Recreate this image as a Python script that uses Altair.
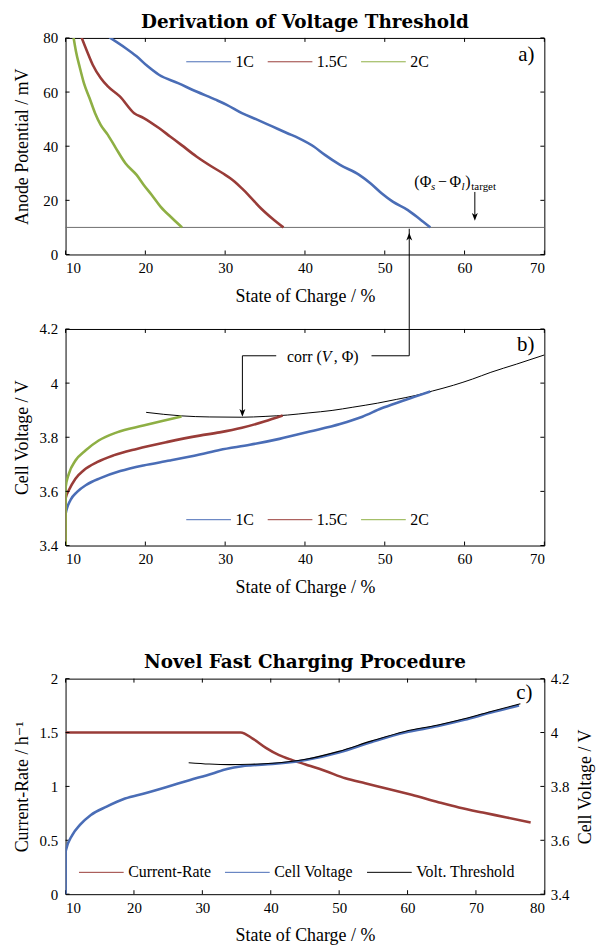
import altair as alt
import pandas as pd

FONT = "'Liberation Serif', 'Times New Roman', 'DejaVu Serif', serif"
TFONT = "'DejaVu Serif', 'Liberation Serif', serif"
BLUE, RED, GREEN = "#4a6db6", "#993c38", "#8eaf44"

# ---------------- tick values ----------------
soc_ticks_ab = [10, 20, 30, 40, 50, 60, 70]
soc_ticks_c = [10, 20, 30, 40, 50, 60, 70, 80]
mv_ticks = [0, 20, 40, 60, 80]
volt_ticks = [3.4, 3.6, 3.8, 4.0, 4.2]
rate_ticks = [0, 0.5, 1.0, 1.5, 2.0]

rates_ab = ["1C", "1.5C", "2C"]
series_c = ["Current-Rate", "Cell Voltage", "Volt. Threshold"]

# ---------------- panel a: anode potential (mV) ----------------
a_1c_soc = [15.5, 17.5, 18.9, 20.3, 21.7, 24.1, 26.4, 28.8, 30.2, 32.1, 34.0, 35.9,
            37.8, 39.2, 41.1, 42.5, 44.4, 46.8, 48.2, 49.6, 51.0, 52.9, 54.3, 55.7]
a_1c_mv = [80.2, 76.3, 73.2, 69.5, 66.4, 63.3, 60.2, 57.2, 55.3, 52.2, 49.8, 47.3,
           44.8, 43.0, 39.9, 36.8, 33.1, 29.4, 26.3, 22.6, 19.5, 16.4, 13.3, 10.0]
a_15c_soc = [12.0, 12.7, 13.4, 14.4, 15.3, 16.8, 18.6, 19.8, 21.7, 23.1, 24.5, 26.4,
             28.3, 29.7, 31.2, 32.1, 33.1, 34.5, 35.9, 37.3]
a_15c_mv = [80.2, 75.0, 70.1, 65.2, 62.1, 58.4, 52.2, 50.4, 46.7, 43.6, 40.5, 36.2,
            32.5, 30.0, 26.9, 24.4, 21.4, 17.0, 13.3, 10.0]
a_2c_soc = [11.0, 11.3, 11.8, 12.3, 13.0, 13.7, 14.4, 15.3, 16.3, 17.5, 18.9, 19.8,
            20.8, 21.9, 23.4, 24.6]
a_2c_mv = [80.2, 75.1, 68.9, 63.3, 57.8, 52.2, 47.9, 44.2, 39.3, 33.7, 29.4, 25.7,
           22.0, 17.7, 13.3, 10.0]
target_mv = [10]

# ---------------- panel b: cell voltage (V) ----------------
b_1c_soc = [10.0, 10.01, 10.62, 11.45, 12.7, 14.36, 16.85, 19.75, 23.07, 26.8, 29.3,
            33.1, 36.8, 40.6, 44.4, 47.2, 49.6, 52.0, 53.8, 55.7]
b_1c_v = [3.40, 3.517, 3.568, 3.598, 3.626, 3.649, 3.675, 3.696, 3.714, 3.736, 3.753,
          3.772, 3.794, 3.821, 3.849, 3.876, 3.907, 3.932, 3.950, 3.969]
b_15c_soc = [10.0, 10.01, 10.41, 11.24, 12.28, 13.94, 16.0, 18.92, 22.66, 26.8, 29.3,
             32.1, 34.9, 37.2]
b_15c_v = [3.40, 3.575, 3.604, 3.647, 3.678, 3.708, 3.733, 3.757, 3.782, 3.806, 3.818,
           3.835, 3.858, 3.880]
b_2c_soc = [10.0, 10.01, 10.41, 11.24, 12.49, 14.15, 16.43, 19.75, 22.24, 24.53]
b_2c_v = [3.40, 3.615, 3.665, 3.714, 3.751, 3.788, 3.818, 3.843, 3.861, 3.877]
b_thr_soc = [20.1, 24.5, 28.0, 32.1, 35.0, 37.8, 40.5, 43.4, 46.0, 49.1, 51.5, 53.8,
             56.0, 58.6, 61.0, 63.3, 66.5, 70.0]
b_thr_v = [3.892, 3.879, 3.875, 3.874, 3.877, 3.882, 3.890, 3.899, 3.911, 3.926, 3.940,
           3.954, 3.971, 3.992, 4.015, 4.040, 4.070, 4.104]

# ---------------- panel c: novel fast charging ----------------
c_rate_soc = [10.0, 35.6, 37.35, 39.29, 41.22, 43.16, 45.1, 48.0, 50.9, 53.8, 57.2,
              60.6, 64.5, 67.5, 71.0, 74.5, 78.0]
c_rate = [1.5, 1.5, 1.444, 1.358, 1.290, 1.244, 1.204, 1.143, 1.075, 1.029, 0.977,
          0.922, 0.854, 0.805, 0.757, 0.712, 0.665]
c_volt_soc = [10.0, 10.01, 11.0, 12.1, 13.7, 16.0, 18.7, 21.5, 24.8, 28.1, 31.4, 33.6,
              35.8, 37.0, 40.25, 45.1, 49.94, 54.77, 59.6, 64.46, 68.3, 72.2, 76.3]
c_volt = [3.40, 3.559, 3.620, 3.657, 3.694, 3.725, 3.755, 3.774, 3.798, 3.823, 3.847,
          3.865, 3.875, 3.878, 3.883, 3.898, 3.926, 3.965, 4.000, 4.024, 4.047, 4.074,
          4.100]
c_thr_soc = [28.0, 31.0, 34.0, 37.0, 40.25, 45.1, 49.94, 54.77, 59.6, 64.46, 68.3,
             72.2, 76.5]
c_thr = [3.888, 3.883, 3.881, 3.882, 3.886, 3.901, 3.930, 3.969, 4.004, 4.028, 4.051,
         4.078, 4.107]

# ---------------- layout constants ----------------
W, H, HC = 482, 218, 217
EXT = 30
UP = "M0,0 L-1,2.6 L0,1.9 L1,2.6 Z"
DOWN = "M0,0 L-1,-2.6 L0,-1.9 L1,-2.6 Z"


def qx(field, scale, axis):
    return alt.X(field, type="quantitative", scale=scale, axis=axis)


def qy(field, scale, axis):
    return alt.Y(field, type="quantitative", scale=scale, axis=axis)


def ticks(xvals, yvals, width, height, X, Y):
    dx = pd.DataFrame({"soc": xvals})
    dy = pd.DataFrame({"val": yvals})
    r = dict(color="black", strokeWidth=1)
    return [
        alt.Chart(dx).mark_rule(**r).encode(x=X("soc"), y=alt.value(height), y2=alt.value(height - 4)),
        alt.Chart(dx).mark_rule(**r).encode(x=X("soc"), y=alt.value(0), y2=alt.value(4)),
        alt.Chart(dy).mark_rule(**r).encode(y=Y("val"), x=alt.value(0), x2=alt.value(4)),
        alt.Chart(dy).mark_rule(**r).encode(y=Y("val"), x=alt.value(width - 4), x2=alt.value(width)),
    ]


def texts(pieces, X, Y, italic=False):
    df = pd.DataFrame(pieces, columns=["t", "soc", "val", "fs"])
    kw = dict(align="left", baseline="alphabetic", font=FONT, color="black")
    if italic:
        kw["fontStyle"] = "italic"
    return alt.Chart(df).mark_text(**kw).encode(
        x=X("soc"), y=Y("val"), text="t:N", size=alt.Size("fs:Q", scale=None))


def legend(x, y):
    return alt.Legend(title=None, orient="none", legendX=x, legendY=y, direction="horizontal",
                      symbolType="stroke", symbolSize=2025, symbolStrokeWidth=1,
                      labelFont=FONT, labelFontSize=16, labelColor="black", labelOffset=4,
                      columnPadding=11)


def long_df(parts):
    rows = []
    i = 0
    for name, xs_, ys_ in parts:
        for a, b in zip(xs_, ys_):
            rows.append({"soc": a, "val": b, "series": name, "i": i})
            i += 1
    return pd.DataFrame(rows)


xs_ab = alt.Scale(domain=[10, 70], nice=False, zero=False)
xax = alt.Axis(title="State of Charge / %", values=soc_ticks_ab, labelPadding=6, titlePadding=12)

# ======== panel a ========
ys_a = alt.Scale(domain=[0, 80], nice=False, zero=False)
yax_a = alt.Axis(title="Anode Potential / mV", values=mv_ticks, labelPadding=8,
                 minExtent=EXT, maxExtent=EXT)
Xa = lambda f: qx(f, xs_ab, xax)
Ya = lambda f: qy(f, ys_a, yax_a)

color_ab = lambda lx, ly: alt.Color("series:N", scale=alt.Scale(domain=rates_ab, range=[BLUE, RED, GREEN]),
                                    legend=legend(lx, ly))

df_a = long_df([("1C", a_1c_soc, a_1c_mv), ("1.5C", a_15c_soc, a_15c_mv), ("2C", a_2c_soc, a_2c_mv)])
a_lines = alt.Chart(df_a).mark_line(strokeWidth=2.6, interpolate="monotone", clip=True).encode(
    x=Xa("soc"), y=Ya("val"), color=color_ab(121, 1), order="i:Q")
a_target = alt.Chart(pd.DataFrame({"val": target_mv})).mark_rule(color="#6e6e6e", strokeWidth=1).encode(y=Ya("val"))

# annotations (data coordinates)
a_ann_norm = [("(", 53.69, 25.1, 16), ("Φ", 54.38, 25.1, 16), ("−", 56.68, 25.1, 16),
              ("Φ", 58.11, 25.1, 16), (")", 60.1, 25.1, 16), ("target", 60.85, 24.0, 11)]
a_ann_ital = [("s", 55.81, 24.0, 11), ("l", 59.61, 24.0, 11)]
a_arrow_seg = pd.DataFrame({"soc": [61.29, 53.07], "y1": [23.1, 9.5], "y2": [14.0, -27.5]})
a_heads_down = pd.DataFrame({"soc": [61.29], "val": [12.5]})
a_heads_up = pd.DataFrame({"soc": [53.07], "val": [8.07]})
a_label = pd.DataFrame({"t": ["a)"], "soc": [68.76], "val": [73.8]})

a_layers = [a_target, a_lines] + ticks(soc_ticks_ab, mv_ticks, W, H, Xa, Ya) + [
    texts(a_ann_norm, Xa, Ya), texts(a_ann_ital, Xa, Ya, italic=True),
    alt.Chart(a_arrow_seg).mark_rule(color="black", strokeWidth=1).encode(
        x=Xa("soc"), y=Ya("y1"), y2=alt.Y2("y2")),
    alt.Chart(a_heads_down).mark_point(shape=DOWN, filled=True, size=36, color="black", opacity=1).encode(
        x=Xa("soc"), y=Ya("val")),
    alt.Chart(a_heads_up).mark_point(shape=UP, filled=True, size=36, color="black", opacity=1).encode(
        x=Xa("soc"), y=Ya("val")),
    alt.Chart(a_label).mark_text(align="right", baseline="middle", font=FONT, fontSize=21, color="black").encode(
        x=Xa("soc"), y=Ya("val"), text="t:N"),
]
chart_a = alt.layer(*a_layers).properties(
    width=W, height=H,
    title=alt.TitleParams("Derivation of Voltage Threshold", font=TFONT, fontSize=18.5, fontWeight="bold",
                          frame="group", anchor="middle", offset=0, color="black"))

# ======== panel b ========
ys_b = alt.Scale(domain=[3.4, 4.2], nice=False, zero=False)
yax_b = alt.Axis(title="Cell Voltage / V", values=volt_ticks, format=".1~f", labelPadding=8,
                 minExtent=EXT, maxExtent=EXT)
Xb = lambda f: qx(f, xs_ab, xax)
Yb = lambda f: qy(f, ys_b, yax_b)

df_b = long_df([("1C", b_1c_soc, b_1c_v), ("1.5C", b_15c_soc, b_15c_v), ("2C", b_2c_soc, b_2c_v)])
b_lines = alt.Chart(df_b).mark_line(strokeWidth=2.6, interpolate="monotone", clip=True).encode(
    x=Xb("soc"), y=Yb("val"), color=color_ab(121, 169), order="i:Q")
df_bthr = pd.DataFrame({"soc": b_thr_soc, "val": b_thr_v})
b_thr = alt.Chart(df_bthr).mark_line(color="black", strokeWidth=1, interpolate="monotone", clip=True).encode(
    x=Xb("soc"), y=Yb("val"))

b_ann_norm = [("corr (", 37.76, 4.077, 16), (", Φ)", 43.61, 4.077, 16)]
b_ann_ital = [("V", 42.12, 4.077, 16)]
b_hseg = pd.DataFrame({"x1": [32.16, 48.34], "x2": [36.4, 53.07], "val": [4.101, 4.101]})
b_vseg = pd.DataFrame({"soc": [53.07, 32.16], "y1": [4.101, 4.101], "y2": [4.2, 3.884]})
b_heads_down = pd.DataFrame({"soc": [32.16], "val": [3.876]})
b_label = pd.DataFrame({"t": ["b)"], "soc": [68.76], "val": [4.141]})

b_layers = [b_thr, b_lines] + ticks(soc_ticks_ab, volt_ticks, W, H, Xb, Yb) + [
    texts(b_ann_norm, Xb, Yb), texts(b_ann_ital, Xb, Yb, italic=True),
    alt.Chart(b_hseg).mark_rule(color="black", strokeWidth=1).encode(
        x=Xb("x1"), x2=alt.X2("x2"), y=Yb("val")),
    alt.Chart(b_vseg).mark_rule(color="black", strokeWidth=1).encode(
        x=Xb("soc"), y=Yb("y1"), y2=alt.Y2("y2")),
    alt.Chart(b_heads_down).mark_point(shape=DOWN, filled=True, size=36, color="black", opacity=1).encode(
        x=Xb("soc"), y=Yb("val")),
    alt.Chart(b_label).mark_text(align="right", baseline="middle", font=FONT, fontSize=21, color="black").encode(
        x=Xb("soc"), y=Yb("val"), text="t:N"),
]
chart_b = alt.layer(*b_layers).properties(width=W, height=H)

# ======== panel c ========
xs_c = alt.Scale(domain=[10, 80], nice=False, zero=False)
xax_c = alt.Axis(title="State of Charge / %", values=soc_ticks_c, labelPadding=6, titlePadding=12)
ys_rate = alt.Scale(domain=[0, 2], nice=False, zero=False)
yax_rate = alt.Axis(title="Current-Rate / h⁻¹", values=rate_ticks, format=".1~f", labelPadding=8,
                    minExtent=EXT, maxExtent=EXT)
ys_volt = alt.Scale(domain=[3.4, 4.2], nice=False, zero=False)
yax_volt = alt.Axis(title="Cell Voltage / V", values=volt_ticks, format=".1~f", orient="right",
                    labelPadding=6, titleAngle=270, titleBaseline="top", titlePadding=8)
Xc = lambda f: qx(f, xs_c, xax_c)
Yr = lambda f: qy(f, ys_rate, yax_rate)
Yv = lambda f: qy(f, ys_volt, yax_volt)
color_c = alt.Color("series:N", scale=alt.Scale(domain=series_c, range=[RED, BLUE, "black"]),
                    legend=legend(13, 172))

df_rate = pd.DataFrame({"soc": c_rate_soc, "val": c_rate, "series": "Current-Rate"})
df_volt = pd.DataFrame({"soc": c_volt_soc, "val": c_volt, "series": "Cell Voltage"})
df_cthr = pd.DataFrame({"soc": c_thr_soc, "val": c_thr, "series": "Volt. Threshold"})
c_label = pd.DataFrame({"t": ["c)"], "soc": [78.25], "val": [1.862]})

left = alt.layer(
    alt.Chart(df_rate).mark_line(strokeWidth=2.6, interpolate="monotone", clip=True).encode(
        x=Xc("soc"), y=Yr("val"), color=color_c),
    *ticks(soc_ticks_c, rate_ticks, W, HC, Xc, Yr),
    alt.Chart(c_label).mark_text(align="right", baseline="middle", font=FONT, fontSize=21, color="black").encode(
        x=Xc("soc"), y=Yr("val"), text="t:N"),
)
right = alt.layer(
    alt.Chart(df_volt).mark_line(strokeWidth=2.6, interpolate="monotone", clip=True).encode(
        x=Xc("soc"), y=Yv("val"), color=color_c),
    alt.Chart(df_cthr).mark_line(strokeWidth=1.1, interpolate="monotone", clip=True).encode(
        x=Xc("soc"), y=Yv("val"), color=color_c),
)
chart_c = alt.layer(left, right).resolve_scale(y="independent").properties(
    width=W, height=HC,
    title=alt.TitleParams("Novel Fast Charging Procedure", font=TFONT, fontSize=18.5, fontWeight="bold",
                          frame="group", anchor="middle", offset=0, color="black"))


def spacer(h):
    return alt.Chart(pd.DataFrame({"z": [0]})).mark_point(opacity=0).encode(
        x=alt.value(0), y=alt.value(0)).properties(
        width=W, height=h, view=alt.ViewBackground(stroke="transparent"))


chart = alt.vconcat(chart_a, spacer(75), chart_b, spacer(134), chart_c, spacing=0, bounds="flush").resolve_scale(
    x="independent", y="independent", color="independent").resolve_legend(color="independent").configure(
    font=FONT).configure_view(
    stroke="black", strokeWidth=1).configure_axis(
    labelFont=FONT, labelFontSize=15, labelColor="black", titleFont=FONT, titleFontSize=18,
    titleFontWeight="normal", titleColor="black", ticks=False, domain=False, grid=False).properties(
    padding={"left": 13, "top": 9, "right": 0, "bottom": 0}, background="white")

chart.save("out.html", embed_options={"renderer": "svg", "actions": False})
